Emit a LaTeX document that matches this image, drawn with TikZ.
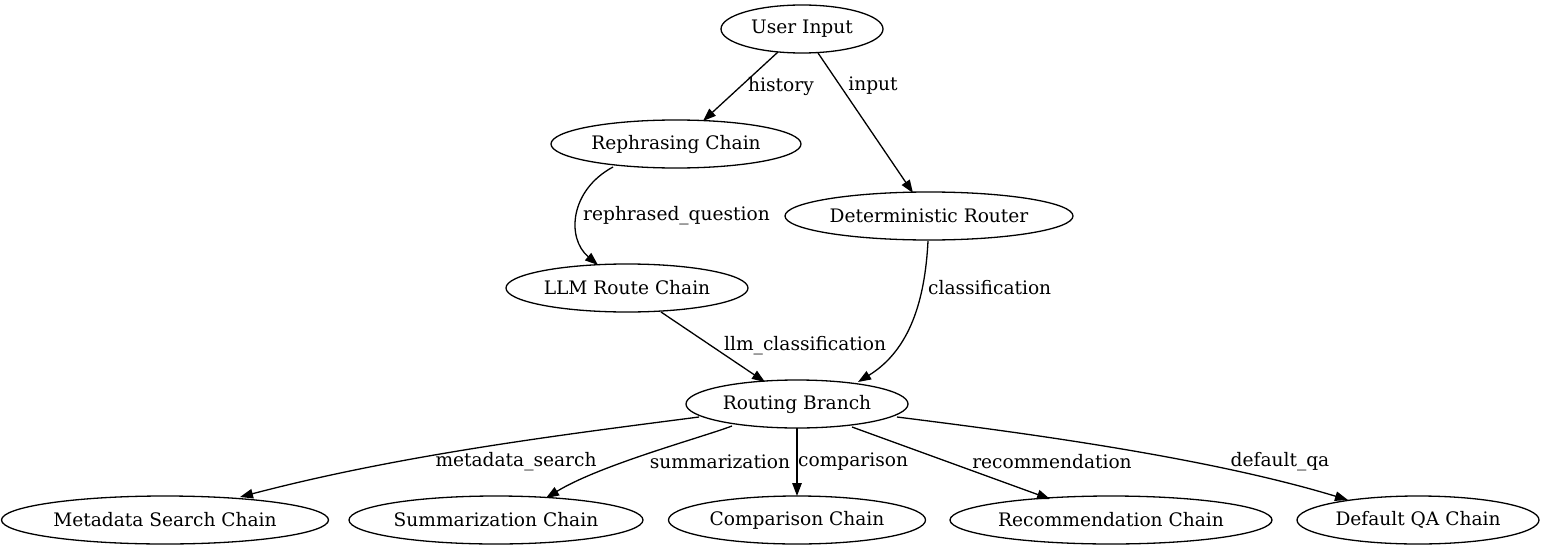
\documentclass[tikz,border=0pt]{standalone}
\usepackage{fontspec}
\setmainfont{DejaVu Serif}
\usetikzlibrary{shapes.geometric,arrows.meta,calc}
\begin{document}
\begin{tikzpicture}[x=1pt,y=-1pt,
  nd/.style={ellipse,draw,line width=1.3pt,inner sep=0pt,minimum height=48pt,font=\fontsize{18.6}{22}\selectfont},
  lb/.style={font=\fontsize{18.6}{22}\selectfont,inner sep=0pt},
  ed/.style={line width=1.3pt,-{Triangle[length=13pt,width=9.5pt]}}]
\useasboundingbox (0,0) rectangle (1544,551);
\node[nd,minimum width=162pt] (ui) at (802,29) {User Input};
\node[nd,minimum width=250pt] (rc) at (676,144) {Rephrasing Chain};
\node[nd,minimum width=288pt] (dr) at (929,216) {Deterministic Router};
\node[nd,minimum width=242pt] (lr) at (627,288) {LLM Route Chain};
\node[nd,minimum width=222pt] (rb) at (797,404) {Routing Branch};
\node[nd,minimum width=327pt] (ms) at (165,520) {Metadata Search Chain};
\node[nd,minimum width=294pt] (sc) at (496,520) {Summarization Chain};
\node[nd,minimum width=257pt] (cc) at (797,520) {Comparison Chain};
\node[nd,minimum width=322pt] (re) at (1111,520) {Recommendation Chain};
\node[nd,minimum width=242pt] (dq) at (1418,520) {Default QA Chain};
% edges
\draw[ed] ($(ui.center)+(-24,23)$) -- ($(rc.center)+(27,-23)$);
\draw[ed] ($(ui.center)+(16,24)$) -- ($(dr.center)+(-16,-23)$);
\draw[ed] ($(rc.center)+(-63,23)$) .. controls +(-43,23) and +(-32,-27) .. ($(lr.center)+(-29,-23)$);
\draw[ed] ($(dr.center)+(-1,25)$) .. controls +(-3,59) and +(52,-32) .. ($(rb.center)+(61,-22)$);
\draw[ed] ($(lr.center)+(34,24)$) -- ($(rb.center)+(-32,-22)$);
\draw[ed] ($(rb.center)+(-98,13)$) .. controls +(-139,18) and +(160,-42) .. ($(ms.center)+(75,-23)$);
\draw[ed] ($(rb.center)+(-65,22)$) .. controls +(-32,12) and +(54,-33) .. ($(sc.center)+(50,-22)$);
\draw[ed] ($(rb.center)+(0,24)$) -- ($(cc.center)+(0,-24)$);
\draw[ed] ($(rb.center)+(55,23)$) -- ($(re.center)+(-61,-21)$);
\draw[ed] ($(rb.center)+(100,13)$) .. controls +(103,13) and +(-148,-45) .. ($(dq.center)+(-70,-20)$);
% labels
\node[lb] (l1) at (781,86) {history};
\node[lb] (l2) at (873,86) {input};
\node[lb,anchor=west] (l3) at (583,216) {rephrased\_question};
\node[lb,anchor=west] (l4) at (928,288) {classification};
\node[lb,anchor=west] (l5) at (724,346) {llm\_classification};
\node[lb] (l6) at (516,462) {metadata\_search};
\node[lb] (l7) at (720,462) {summarization};
\node[lb,anchor=west] (l8) at (798,462) {comparison};
\node[lb] (l9) at (1052,462) {recommendation};
\node[lb] (l10) at (1280,462) {default\_qa};
\end{tikzpicture}
\end{document}
